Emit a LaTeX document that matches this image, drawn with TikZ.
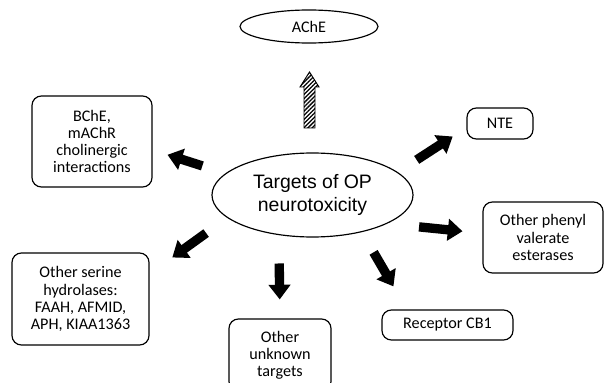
\documentclass[tikz,border=0pt]{standalone}
\usepackage{fontspec}
\setmainfont{Carlito}
\newfontfamily\arialfont{Liberation Sans}
\usetikzlibrary{positioning,arrows.meta,calc,shapes.geometric,patterns.meta}

\begin{document}
\begin{tikzpicture}[
  x=0.03cm, y=0.03cm,
  box/.style={draw, line width=1pt, rounded corners=8pt, align=center,
    inner sep=0pt, font=\fontsize{13.8}{14.6}\selectfont},
  oval/.style={draw, ellipse, line width=1pt, align=center, inner sep=0pt},
  fat/.style={-{Triangle[length=0.44cm, width=0.64cm]}, line width=0.28cm},
  hatch/.style={draw, line width=0.8pt,
    pattern={Lines[angle=45, distance=2.5pt, line width=1.1pt]}},
]
\useasboundingbox (0,0) rectangle (605,382);

% ---- centre and the target named on top ----
\node[oval, minimum width=6.03cm, minimum height=2.52cm,
      font=\arialfont\fontsize{16.6}{19.8}\selectfont] (tgt) at (312.5,187)
  {Targets of OP\\ neurotoxicity};
\node[oval, minimum width=4.14cm, minimum height=0.99cm,
      font=\fontsize{13.8}{14.6}\selectfont] (ache) at (309,355.5) {AChE};

% ---- the other targets round the centre ----
\node[box, minimum width=3.6cm, minimum height=2.73cm] (bche) at (92,240.5)
  {BChE,\\ mAChR\\ cholinergic\\ interactions};
\node[box, minimum width=1.98cm, minimum height=0.93cm] (nte) at (500,258.5)
  {NTE};
\node[box, minimum width=3.6cm, minimum height=2.13cm] (phen) at (543,144.5)
  {Other phenyl\\ valerate\\ esterases};
\node[box, minimum width=4.11cm, minimum height=2.76cm] (ser) at (80.5,83)
  {Other serine\\ hydrolases:\\ FAAH, AFMID,\\ APH, KIAA1363};
\node[box, minimum width=3.06cm, minimum height=2.16cm] (unk) at (280,27)
  {Other\\ unknown\\ targets};
\node[box, minimum width=3.93cm, minimum height=0.9cm] (cb1) at (447.5,57)
  {Receptor CB1};

% ---- hatched arrow up to AChE ----
\coordinate (hatchbase) at (309.5,254);
\draw[hatch] (hatchbase) ++(-5.5,0) -- ++(0,41) -- ++(-4,0) -- ++(9.5,15)
  -- ++(9.5,-15) -- ++(-4,0) -- ++(0,-41) -- cycle;

% ---- solid arrows ----
\draw[fat, shorten <=0.73cm, shorten >=0.47cm] (tgt.166.6) -- (bche.-8.2);
\draw[fat, shorten <=0.675cm, shorten >=0.49cm] (tgt.15.6) -- (nte.187.8);
\draw[fat, shorten <=0.96cm, shorten >=0.6cm] (tgt.-21) -- (phen.176.9);
\draw[fat, shorten <=0.7cm, shorten >=0.8cm] (tgt.-37.6) -- (cb1.159.8);
\draw[fat, shorten <=0.85cm, shorten >=0.57cm] (tgt.230.7) -- (unk.north);
\draw[fat, shorten <=0.78cm, shorten >=0.84cm] (tgt.195.6) -- (ser.20.9);

\end{tikzpicture}
\end{document}
